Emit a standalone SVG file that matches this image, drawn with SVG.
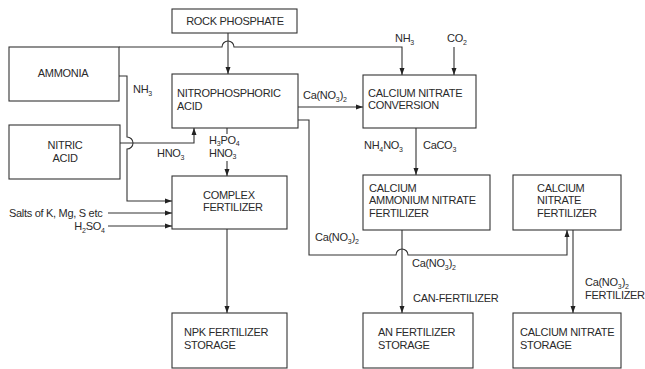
<svg xmlns="http://www.w3.org/2000/svg" width="645" height="369" viewBox="0 0 645 369">
<defs>
<marker id="ah" markerUnits="userSpaceOnUse" markerWidth="8" markerHeight="6" refX="7" refY="3" orient="auto">
<path d="M0,0.5 L7,3 L0,5.5 Z" fill="#222"/>
</marker>
<style>
rect{fill:#fff;stroke:#333;stroke-width:1.1}
.c path{fill:none;stroke:#333;stroke-width:1.1}
.a{marker-end:url(#ah)}
text{font-family:"Liberation Sans",Arial,sans-serif;font-size:11px;letter-spacing:-0.3px;fill:#2a2a2a}
.m{text-anchor:middle}
.e{text-anchor:end}
.s{font-size:7px;letter-spacing:0}
</style>
</defs>
<rect x="0" y="0" width="645" height="369" style="fill:#fff;stroke:none"/>
<g class="c" id="connectors">
<path d="M119,47 H222 A6,6 0 0 1 234,47 H402 V75" class="a"/>
<path d="M228,33 V74" class="a"/>
<path d="M454,47 V75" class="a"/>
<path d="M119,76 H127 V137 A6,6 0 0 1 127,149 V201 H172" class="a"/>
<path d="M120,143 H194 V128" class="a"/>
<path d="M227,128 V134"/>
<path d="M227,161 V176" class="a"/>
<path d="M108,213 H172" class="a"/>
<path d="M108,226 H172" class="a"/>
<path d="M227,229 V313" class="a"/>
<path d="M298,107 H363" class="a"/>
<path d="M298,120 H309 V255 H396 A6,6 0 0 1 408,255 H567 V230" class="a"/>
<path d="M416,128 V175" class="a"/>
<path d="M402,230 V313" class="a"/>
<path d="M573,230 V313" class="a"/>
</g>
<g id="rock"><rect x="172" y="9" width="125" height="24"/><text x="235" y="25" class="m">ROCK PHOSPHATE</text></g>
<g id="ammonia"><rect x="9" y="47" width="110" height="54"/><text x="63" y="77" class="m">AMMONIA</text></g>
<g id="nitric"><rect x="9" y="125" width="111" height="54"/><text x="65" y="149" class="m">NITRIC</text><text x="65" y="162" class="m">ACID</text></g>
<g id="nitro"><rect x="172" y="74" width="126" height="54"/><text x="177" y="97">NITROPHOSPHORIC</text><text x="177" y="110">ACID</text></g>
<g id="complex"><rect x="172" y="176" width="115" height="53"/><text x="203" y="199">COMPLEX</text><text x="203" y="211">FERTILIZER</text></g>
<g id="npk"><rect x="172" y="313" width="115" height="55"/><text x="184" y="336">NPK FERTILIZER</text><text x="184" y="349">STORAGE</text></g>
<g id="conversion"><rect x="363" y="75" width="113" height="53"/><text x="368" y="97">CALCIUM NITRATE</text><text x="368" y="109">CONVERSION</text></g>
<g id="can"><rect x="363" y="175" width="127" height="55"/><text x="369" y="192">CALCIUM</text><text x="369" y="204">AMMONIUM NITRATE</text><text x="369" y="217">FERTILIZER</text></g>
<g id="cnf"><rect x="513" y="175" width="108" height="55"/><text x="537" y="192">CALCIUM</text><text x="537" y="204">NITRATE</text><text x="537" y="217">FERTILIZER</text></g>
<g id="anstorage"><rect x="363" y="313" width="110" height="55"/><text x="378" y="336">AN FERTILIZER</text><text x="378" y="349">STORAGE</text></g>
<g id="cnstorage"><rect x="513" y="313" width="108" height="55"/><text x="520" y="336">CALCIUM NITRATE</text><text x="520" y="349">STORAGE</text></g>
<g id="labels">
<text x="395" y="42">NH<tspan class="s" dy="3">3</tspan></text>
<text x="447" y="42">CO<tspan class="s" dy="3">2</tspan></text>
<text x="133" y="93">NH<tspan class="s" dy="3">3</tspan></text>
<text x="303" y="99">Ca(NO<tspan class="s" dy="3">3</tspan><tspan dy="-3">)</tspan><tspan class="s" dy="3">2</tspan></text>
<text x="157" y="157">HNO<tspan class="s" dy="3">3</tspan></text>
<text x="209" y="144">H<tspan class="s" dy="2">3</tspan><tspan dy="-2">PO</tspan><tspan class="s" dy="2">4</tspan></text>
<text x="209" y="157">HNO<tspan class="s" dy="2">3</tspan></text>
<text x="9" y="217">Salts of K, Mg, S etc</text>
<text x="105" y="230" class="e">H<tspan class="s" dy="3">2</tspan><tspan dy="-3">SO</tspan><tspan class="s" dy="3">4</tspan></text>
<text x="364" y="149">NH<tspan class="s" dy="3">4</tspan><tspan dy="-3">NO</tspan><tspan class="s" dy="3">3</tspan></text>
<text x="423" y="149">CaCO<tspan class="s" dy="3">3</tspan></text>
<text x="315" y="241">Ca(NO<tspan class="s" dy="3">3</tspan><tspan dy="-3">)</tspan><tspan class="s" dy="3">2</tspan></text>
<text x="412" y="267">Ca(NO<tspan class="s" dy="3">3</tspan><tspan dy="-3">)</tspan><tspan class="s" dy="3">2</tspan></text>
<text x="413" y="302">CAN-FERTILIZER</text>
<text x="585" y="286">Ca(NO<tspan class="s" dy="3">3</tspan><tspan dy="-3">)</tspan><tspan class="s" dy="3">2</tspan></text>
<text x="585" y="299">FERTILIZER</text>
</g>
</svg>
